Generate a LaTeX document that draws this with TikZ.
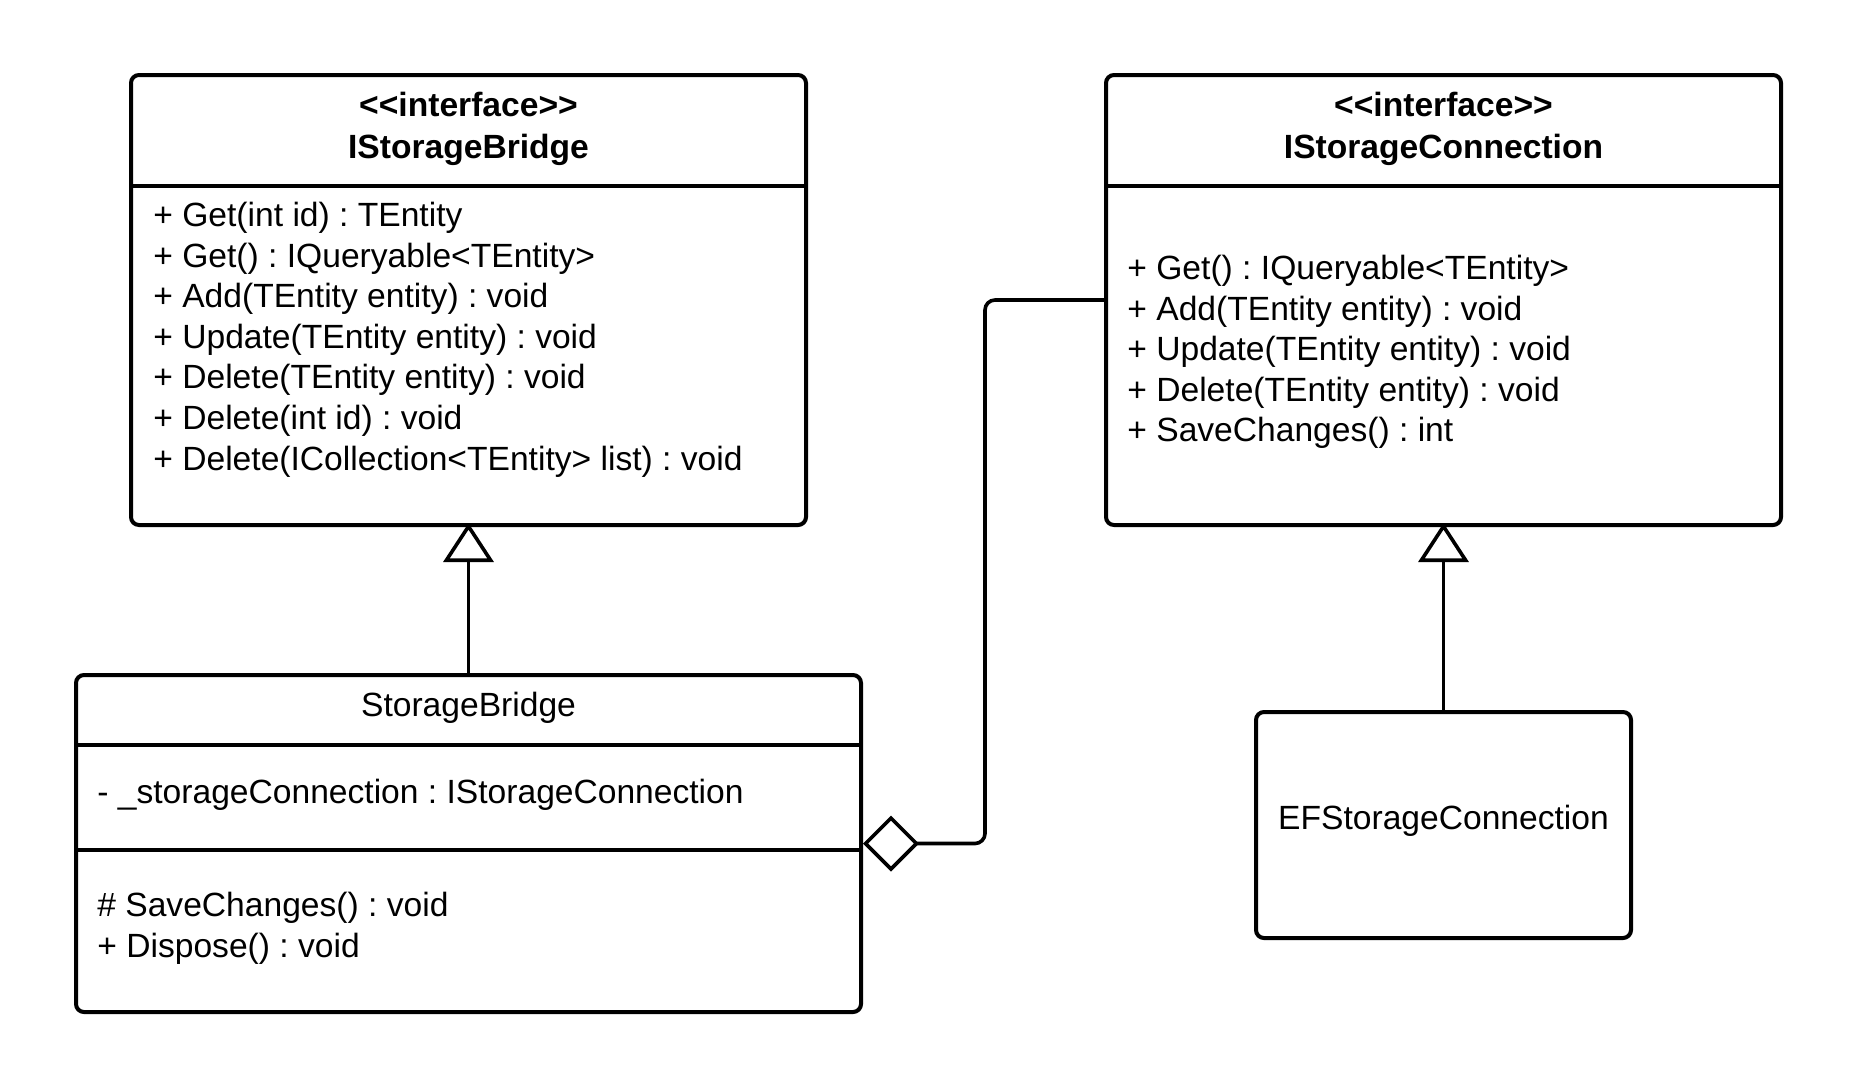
\documentclass[tikz,border=0pt]{standalone}
\usepackage{fontspec}
\setmainfont{Liberation Sans}
\usetikzlibrary{arrows.meta}
\frenchspacing
\begin{document}
\begin{tikzpicture}[x=0.5pt,y=-0.5pt,
  cls/.style={draw, line width=2pt, rounded corners=4pt, inner sep=0pt},
  sepline/.style={line width=2pt},
  txt/.style={inner sep=0pt, anchor=base west, font=\fontsize{16.8pt}{20.4pt}\selectfont},
  ctxt/.style={inner sep=0pt, anchor=base, font=\fontsize{16.8pt}{20.4pt}\selectfont},
  btxt/.style={inner sep=0pt, anchor=base, font=\fontsize{16.8pt}{20.4pt}\selectfont\bfseries},
  inherit/.style={line width=1.8pt, shorten >=-2pt, -{Triangle[open, length=19.5pt, width=25pt]}},
  agg/.style={line width=1.8pt, rounded corners=5pt, {Diamond[open, length=28pt, width=28pt]}-}
]
\useasboundingbox (0,0) rectangle (1856,1088);

% boxes
\node[cls, minimum width=337.5pt, minimum height=225pt] (ib) at (468.5,300) {};
\node[cls, minimum width=337.5pt, minimum height=225pt] (ic) at (1443.5,300) {};
\node[cls, minimum width=392.5pt, minimum height=168.5pt] (sb) at (468.5,843.5) {};
\node[cls, minimum width=187.5pt, minimum height=113pt] (ef) at (1443.5,825) {};

% separators
\coordinate (s1) at (0,186);
\coordinate (s2) at (0,745);
\coordinate (s3) at (0,850);
\draw[sepline] (ib.west |- s1) -- (ib.east |- s1);
\draw[sepline] (ic.west |- s1) -- (ic.east |- s1);
\draw[sepline] (sb.west |- s2) -- (sb.east |- s2);
\draw[sepline] (sb.west |- s3) -- (sb.east |- s3);

% IStorageBridge
\node[btxt] (ibst) at (468.5,116) {<\kern0pt<interface>\kern0pt>};
\node[btxt] (ibn) at (468.5,158) {IStorageBridge};
\node[txt] (ib1) at (153,226) {+ Get(int id) : TEntity};
\node[txt] (ib2) at (153,267) {+ Get() : IQueryable<TEntity>};
\node[txt] (ib3) at (153,307) {+ Add(TEntity entity) : void};
\node[txt] (ib4) at (153,348) {+ Update(TEntity entity) : void};
\node[txt] (ib5) at (153,388) {+ Delete(TEntity entity) : void};
\node[txt] (ib6) at (153,429) {+ Delete(int id) : void};
\node[txt] (ib7) at (153,470) {+ Delete(ICollection<TEntity> list) : void};

% IStorageConnection
\node[btxt] (icst) at (1443.5,116) {<\kern0pt<interface>\kern0pt>};
\node[btxt] (icn) at (1443.5,158) {IStorageConnection};
\node[txt] (ic1) at (1127,279.5) {+ Get() : IQueryable<TEntity>};
\node[txt] (ic2) at (1127,320) {+ Add(TEntity entity) : void};
\node[txt] (ic3) at (1127,360.5) {+ Update(TEntity entity) : void};
\node[txt] (ic4) at (1127,401) {+ Delete(TEntity entity) : void};
\node[txt] (ic5) at (1127,441.5) {+ SaveChanges() : int};

% StorageBridge
\node[ctxt] (sbn) at (468.5,716) {StorageBridge};
\node[txt] (sb1) at (97,803.5) {- \_storageConnection : IStorageConnection};
\node[txt] (sb2) at (97,916) {\# SaveChanges() : void};
\node[txt] (sb3) at (97,957) {+ Dispose() : void};

% EFStorageConnection
\node[ctxt] (efn) at (1443.5,829) {EFStorageConnection};

% connectors
\draw[inherit] (sb.north) -- (ib.south);
\draw[inherit] (ef.north) -- (ic.south);
\coordinate (bend) at (985,0);
\draw[agg] (sb.east) -- (sb.east -| bend) -- (ic.west -| bend) -- (ic.west);
\end{tikzpicture}
\end{document}
